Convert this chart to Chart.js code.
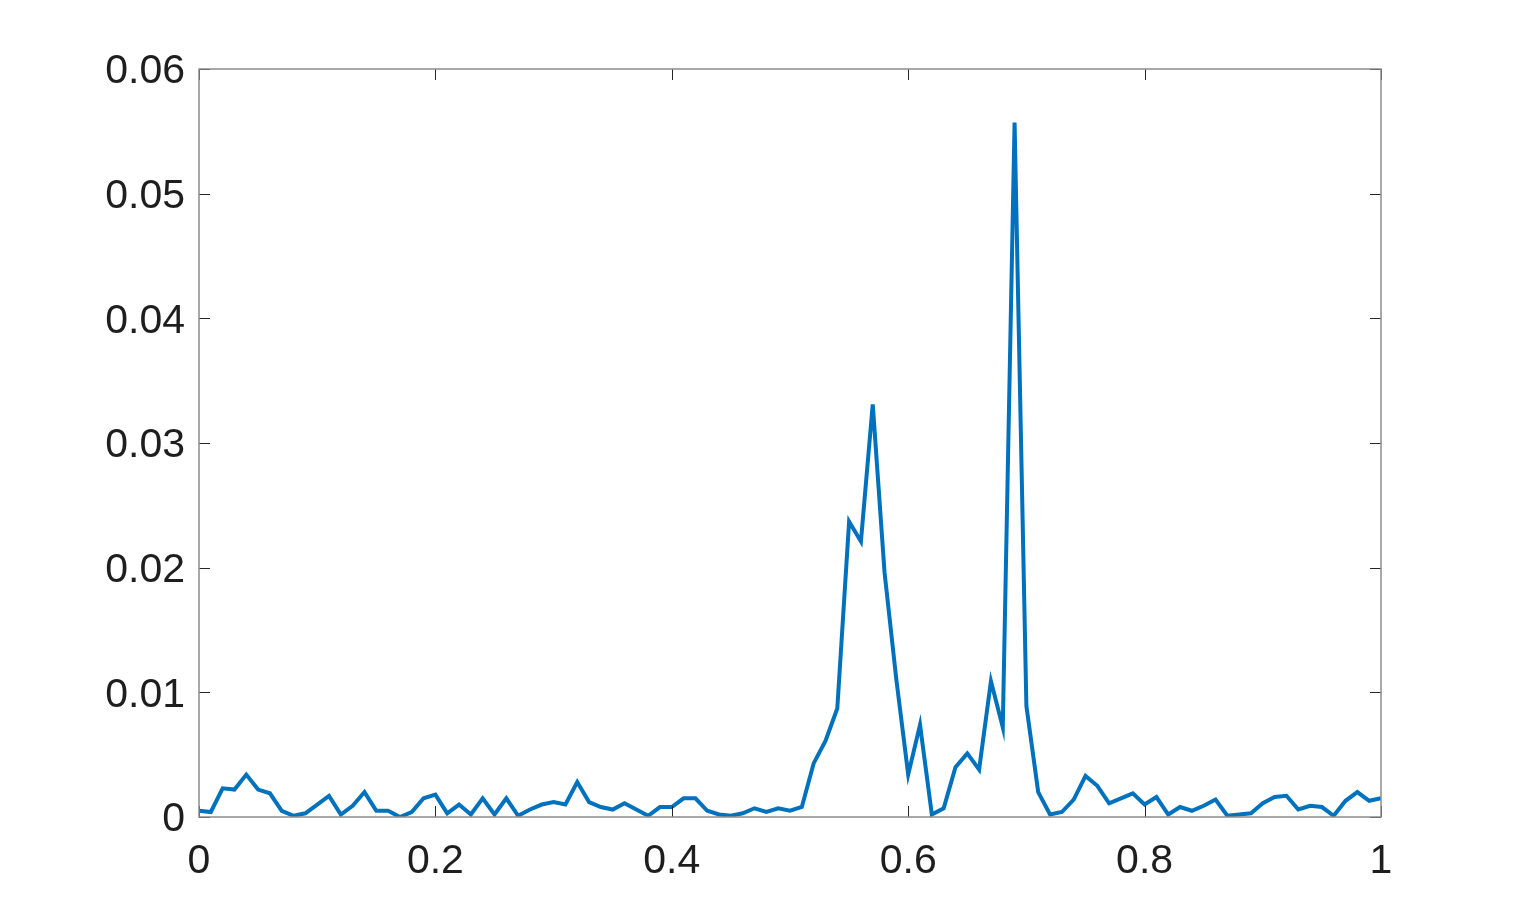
<!DOCTYPE html>
<html>
<head>
<meta charset="utf-8">
<script src="https://cdn.jsdelivr.net/npm/chart.js@4/dist/chart.umd.min.js"></script>
<style>
  html, body { margin: 0; padding: 0; background: #fff; }
  #wrap { width: 1527px; height: 919px; }
</style>
</head>
<body>
<div id="wrap"><canvas id="plot" width="1527" height="919"></canvas></div>
<script>
// sample positions and values
var xs = [0, 0.01, 0.02, 0.03, 0.04, 0.05, 0.06, 0.07, 0.08, 0.09,
  0.1, 0.11, 0.12, 0.13, 0.14, 0.15, 0.16, 0.17, 0.18, 0.19,
  0.2, 0.21, 0.22, 0.23, 0.24, 0.25, 0.26, 0.27, 0.28, 0.29,
  0.3, 0.31, 0.32, 0.33, 0.34, 0.35, 0.36, 0.37, 0.38, 0.39,
  0.4, 0.41, 0.42, 0.43, 0.44, 0.45, 0.46, 0.47, 0.48, 0.49,
  0.5, 0.51, 0.52, 0.53, 0.54, 0.55, 0.56, 0.57, 0.58, 0.59,
  0.6, 0.61, 0.62, 0.63, 0.64, 0.65, 0.66, 0.67, 0.68, 0.69,
  0.7, 0.71, 0.72, 0.73, 0.74, 0.75, 0.76, 0.77, 0.78, 0.79,
  0.8, 0.81, 0.82, 0.83, 0.84, 0.85, 0.86, 0.87, 0.88, 0.89,
  0.9, 0.91, 0.92, 0.93, 0.94, 0.95, 0.96, 0.97, 0.98, 0.99, 1];

var ys = [0.0005, 0.0004, 0.0023, 0.0022, 0.0034, 0.0022, 0.0019, 0.0005, 0.0001, 0.0003,
  0.0010, 0.0017, 0.0002, 0.0009, 0.0020, 0.0005, 0.0005, 0.0000, 0.0004, 0.0015,
  0.0018, 0.0003, 0.0010, 0.0002, 0.0015, 0.0002, 0.0015, 0.0001, 0.0006, 0.0010,
  0.0012, 0.0010, 0.0028, 0.0012, 0.0008, 0.0006, 0.0011, 0.0006, 0.0001, 0.0008,
  0.0008, 0.0015, 0.0015, 0.0005, 0.0002, 0.0001, 0.0003, 0.0007, 0.0004, 0.0007,
  0.0005, 0.0008, 0.0043, 0.0061, 0.0087, 0.0237, 0.0221, 0.0331, 0.0196, 0.0110,
  0.0034, 0.0074, 0.0002, 0.0007, 0.0040, 0.0051, 0.0038, 0.0109, 0.0072, 0.0557,
  0.0089, 0.0020, 0.0002, 0.0004, 0.0014, 0.0033, 0.0025, 0.0011, 0.0015, 0.0019,
  0.0010, 0.0016, 0.0002, 0.0008, 0.0005, 0.0009, 0.0014, 0.0001, 0.0002, 0.0003,
  0.0011, 0.0016, 0.0017, 0.0006, 0.0009, 0.0008, 0.0001, 0.0013, 0.0020, 0.0013, 0.0015];

var xTicks = [0, 0.2, 0.4, 0.6, 0.8, 1];
var xTickLabels = ['0', '0.2', '0.4', '0.6', '0.8', '1'];
var yTicks = [0, 0.01, 0.02, 0.03, 0.04, 0.05, 0.06];
var yTickLabels = ['0', '0.01', '0.02', '0.03', '0.04', '0.05', '0.06'];

var pts = xs.map(function(x, i){ return {x: x, y: ys[i]}; });

// matlab style box with inward ticks on all four sides
var boxPlugin = {
	id: 'box',
	afterDatasetsDraw: function(chart) {
		var c = chart.ctx, a = chart.chartArea;
		var sx = chart.scales.x, sy = chart.scales.y;
		var len = 11;
		c.save();
		c.strokeStyle = '#262626';
		c.lineWidth = 1;
		c.beginPath();
		xTicks.forEach(function(v){
			var px = Math.round(sx.getPixelForValue(v)) + 0.5;
			c.moveTo(px, a.bottom); c.lineTo(px, a.bottom - len);
			c.moveTo(px, a.top); c.lineTo(px, a.top + len);
		});
		yTicks.forEach(function(v){
			var py = Math.round(sy.getPixelForValue(v)) + 0.5;
			c.moveTo(a.left, py); c.lineTo(a.left + len, py);
			c.moveTo(a.right, py); c.lineTo(a.right - len, py);
		});
		c.stroke();
		c.strokeStyle = '#8c8c8c';
		c.lineWidth = 1.5;
		c.strokeRect(a.left, a.top, a.right - a.left, a.bottom - a.top);
		c.restore();
	}
};

var ctx = document.getElementById('plot');
var chart = new Chart(ctx, {
	type: 'line',
	data: {
		datasets: [{
			data: pts,
			borderColor: '#0072BD',
			backgroundColor: 'transparent',
			borderWidth: 4,
			pointRadius: 0,
			tension: 0,
			fill: false
		}]
	},
	options: {
		responsive: false,
		animation: false,
		events: [],
		layout: { padding: { left: 0, top: 69, right: 146, bottom: 0 } },
		plugins: { legend: { display: false }, tooltip: { enabled: false } },
		scales: {
			x: {
				type: 'linear',
				min: 0, max: 1,
				grid: { display: false, drawTicks: false },
				border: { display: false },
				afterFit: function(s){ s.height = 102; },
				afterBuildTicks: function(s){ s.ticks = xTicks.map(function(v){ return {value: v}; }); },
				ticks: {
					padding: 20,
					color: '#1e1e1e',
					font: { family: '"Liberation Sans", Arial, sans-serif', size: 41 },
					maxRotation: 0,
					callback: function(v){ return xTickLabels[xTicks.indexOf(v)]; }
				}
			},
			y: {
				min: 0, max: 0.06,
				grid: { display: false, drawTicks: false },
				border: { display: false },
				afterFit: function(s){ s.width = 199; },
				afterBuildTicks: function(s){ s.ticks = yTicks.map(function(v){ return {value: v}; }); },
				ticks: {
					padding: 14,
					labelOffset: 3,
					color: '#1e1e1e',
					font: { family: '"Liberation Sans", Arial, sans-serif', size: 41 },
					callback: function(v){ return yTickLabels[yTicks.indexOf(v)]; }
				}
			}
		}
	},
	plugins: [boxPlugin]
});
</script>
</body>
</html>
